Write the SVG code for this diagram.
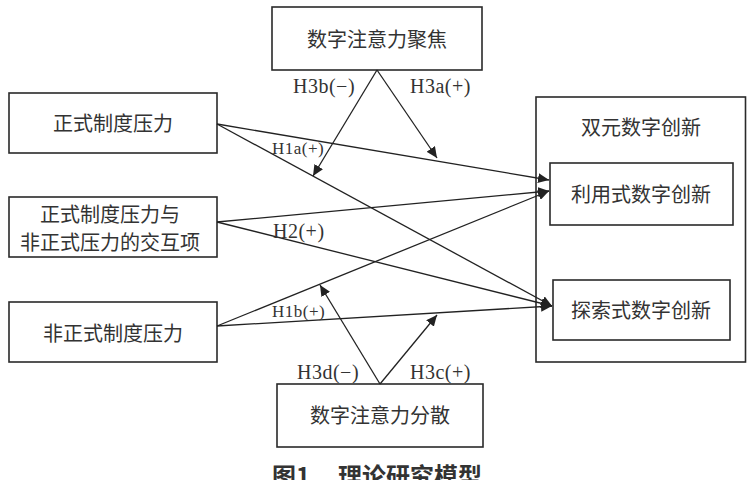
<svg xmlns="http://www.w3.org/2000/svg" width="747" height="480" viewBox="0 0 747 480">
<style>
.box{fill:#fff;stroke:#2a2a2a;stroke-width:1.6}
.cn{font-family:"Noto Sans CJK SC","Noto Sans",sans-serif;font-size:20px;fill:#333;text-anchor:middle}
.lb{font-family:"Liberation Serif","DejaVu Serif",serif;fill:#333}
.ln{stroke:#222;stroke-width:1.3;fill:none;marker-end:url(#ah)}
.cap{font-family:"Noto Sans CJK SC",sans-serif;font-size:24px;font-weight:bold;fill:#333}
</style>
<defs>
<marker id="ah" markerUnits="userSpaceOnUse" markerWidth="12" markerHeight="10" refX="11" refY="5" orient="auto">
<path d="M0,0 L11,5 L0,10 Z" fill="#222"/>
</marker>
</defs>
<rect width="747" height="480" fill="#fff"/>
<g id="outer">
<rect class="box" x="536" y="97" width="209.5" height="265"/>
<text class="cn" x="641" y="135">双元数字创新</text>
</g>
<g id="focus">
<rect class="box" x="272" y="7" width="210" height="63"/>
<text class="cn" x="377" y="47">数字注意力聚焦</text>
</g>
<g id="formal">
<rect class="box" x="9" y="93" width="208" height="60"/>
<text class="cn" x="113" y="131">正式制度压力</text>
</g>
<g id="interaction">
<rect class="box" x="9" y="197" width="208" height="60"/>
<text class="cn" x="110" y="222">正式制度压力与</text>
<text class="cn" x="110" y="250">非正式压力的交互项</text>
</g>
<g id="informal">
<rect class="box" x="9" y="302" width="208" height="60"/>
<text class="cn" x="113" y="341">非正式制度压力</text>
</g>
<g id="dispersion">
<rect class="box" x="277" y="384" width="206" height="63"/>
<text class="cn" x="380" y="423">数字注意力分散</text>
</g>
<g id="exploit">
<rect class="box" x="550" y="163" width="183" height="62"/>
<text class="cn" x="641" y="202">利用式数字创新</text>
</g>
<g id="explore">
<rect class="box" x="553" y="280" width="177" height="60"/>
<text class="cn" x="641" y="318">探索式数字创新</text>
</g>
<g id="connectors">
<line class="ln" x1="217" y1="124" x2="549" y2="180"/>
<line class="ln" x1="217" y1="124" x2="552" y2="306"/>
<line class="ln" x1="217" y1="222" x2="549" y2="191"/>
<line class="ln" x1="217" y1="222" x2="552" y2="306"/>
<line class="ln" x1="217" y1="326" x2="549" y2="191"/>
<line class="ln" x1="217" y1="326" x2="552" y2="306"/>
<line class="ln" x1="377" y1="70" x2="313" y2="176"/>
<line class="ln" x1="377" y1="70" x2="437" y2="158"/>
<line class="ln" x1="380" y1="384" x2="320" y2="285"/>
<line class="ln" x1="380" y1="384" x2="437" y2="315"/>
</g>
<g id="labels">
<text class="lb" x="293" y="93" font-size="20" letter-spacing="0.5">H3b(−)</text>
<text class="lb" x="410" y="93" font-size="20" letter-spacing="0.5">H3a(+)</text>
<text class="lb" x="272" y="154" font-size="17" letter-spacing="0.5">H1a(+)</text>
<text class="lb" x="273" y="238" font-size="20" letter-spacing="0.5">H2(+)</text>
<text class="lb" x="272" y="317" font-size="17" letter-spacing="0.5">H1b(+)</text>
<text class="lb" x="297" y="379" font-size="20" letter-spacing="0.5">H3d(−)</text>
<text class="lb" x="410" y="379" font-size="20" letter-spacing="0.5">H3c(+)</text>
</g>
<text class="cap" y="485"><tspan x="272">图1</tspan><tspan x="338">理论研究模型</tspan></text>
</svg>
